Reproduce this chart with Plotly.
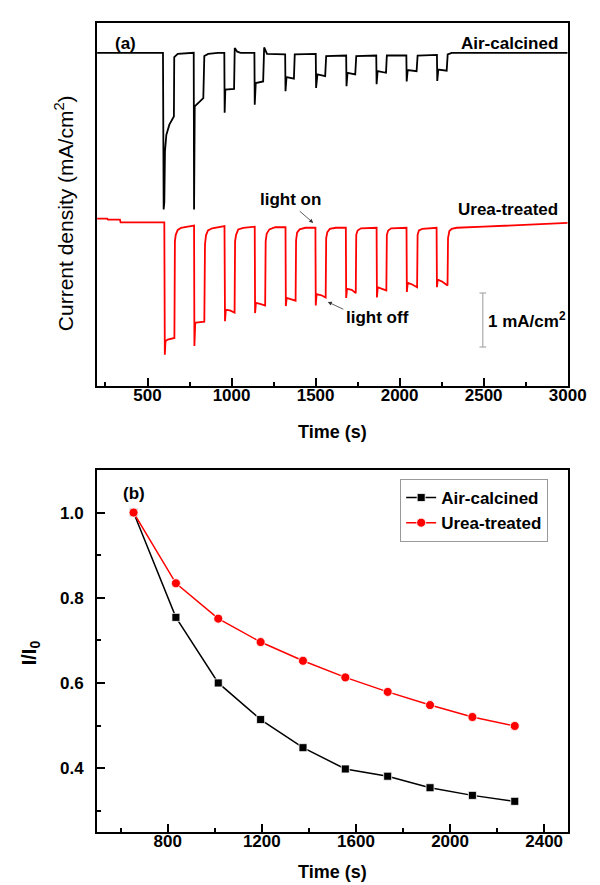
import plotly.graph_objects as go

# ---------------- Panel (a): transient photocurrent ----------------
t_air = [200, 592, 596, 600, 604, 612, 630, 645, 657, 659, 680, 775,
         777, 781, 804, 832, 838, 861, 919, 957,
         959, 963, 1015, 1019, 1034, 1054, 1136,
         1138, 1144, 1188, 1194, 1211, 1319,
         1321, 1327, 1371, 1376, 1501,
         1503, 1511, 1557, 1563, 1682,
         1684, 1690, 1736, 1742, 1861,
         1863, 1869, 1919, 1924, 2040,
         2042, 2048, 2101, 2107, 2222,
         2224, 2230, 2280, 2286, 2310, 3000]
j_air = [6.17, 6.17, 3.27, 3.40, 4.35, 4.65, 4.84, 4.93, 4.99, 6.09, 6.15, 6.17,
         3.27, 5.18, 5.24, 5.33, 6.11, 6.15, 6.17, 6.17,
         5.06, 5.49, 5.50, 6.26, 6.19, 6.17, 6.17,
         5.21, 5.61, 5.64, 6.27, 6.15, 6.14,
         5.46, 5.72, 5.69, 6.14, 6.15,
         5.52, 5.77, 5.74, 6.11, 6.12,
         5.55, 5.80, 5.77, 6.11, 6.12,
         5.59, 5.83, 5.80, 6.12, 6.12,
         5.64, 5.85, 5.83, 6.12, 6.13,
         5.65, 5.86, 5.84, 6.14, 6.17, 6.17]

t_urea = [200, 260, 265, 336, 340, 600,
          603, 607, 620, 660, 663, 668, 680, 700, 740, 777,
          779, 784, 800, 838, 842, 848, 860, 885, 958,
          961, 966, 990, 1018, 1021, 1027, 1040, 1070, 1138,
          1140, 1145, 1170, 1200, 1203, 1209, 1225, 1260, 1321,
          1323, 1328, 1355, 1381, 1384, 1390, 1405, 1440, 1499,
          1501, 1506, 1535, 1560, 1563, 1570, 1585, 1620, 1680,
          1682, 1687, 1715, 1739, 1742, 1750, 1770, 1863,
          1865, 1870, 1895, 1921, 1924, 1932, 1950, 2041,
          2043, 2048, 2075, 2104, 2107, 2115, 2135, 2220,
          2222, 2227, 2255, 2285, 2288, 2296, 2310, 2340, 2500, 2750, 3000]
j_urea = [3.10, 3.10, 3.08, 3.08, 3.03, 3.03,
          0.58, 0.83, 0.86, 0.89, 2.68, 2.80, 2.89, 2.93, 2.95, 2.97,
          0.74, 1.17, 1.18, 1.19, 2.62, 2.79, 2.88, 2.92, 2.96,
          1.20, 1.41, 1.40, 1.36, 2.68, 2.80, 2.90, 2.93, 2.95,
          1.35, 1.54, 1.52, 1.49, 2.68, 2.82, 2.90, 2.94, 2.94,
          1.48, 1.63, 1.61, 1.58, 2.70, 2.84, 2.90, 2.93, 2.93,
          1.49, 1.70, 1.68, 1.64, 2.74, 2.85, 2.91, 2.93, 2.93,
          1.63, 1.80, 1.78, 1.72, 2.80, 2.88, 2.92, 2.93,
          1.64, 1.83, 1.80, 1.77, 2.80, 2.88, 2.92, 2.93,
          1.74, 1.91, 1.88, 1.83, 2.80, 2.88, 2.91, 2.93,
          1.83, 1.97, 1.93, 1.86, 2.74, 2.87, 2.91, 2.93, 2.95, 2.99, 3.02]

xticks_a = [500, 1000, 1500, 2000, 2500, 3000]

# scale bar (1 mA/cm2) in panel (a) data units
scalebar_t = 2495
scalebar_j = [0.722, 1.722]

# ---------------- Panel (b): normalized photocurrent ----------------
t_cycle = [655, 835, 1015, 1195, 1375, 1555, 1735, 1915, 2095, 2275]
ratio_air = [1.000, 0.754, 0.600, 0.514, 0.448, 0.398, 0.381, 0.354, 0.336, 0.322]
ratio_urea = [1.000, 0.834, 0.751, 0.696, 0.652, 0.613, 0.579, 0.548, 0.520, 0.499]

xticks_b = [800, 1200, 1600, 2000, 2400]
yticks_b = [0.4, 0.6, 0.8, 1.0]

FONT = "Liberation Sans, Arial, sans-serif"
W, H = 600, 885

fig = go.Figure()
fig.add_trace(go.Scatter(x=t_air, y=j_air, mode="lines", xaxis="x", yaxis="y",
                         line=dict(color="black", width=1.8), showlegend=False,
                         name="Air-calcined"))
fig.add_trace(go.Scatter(x=t_urea, y=j_urea, mode="lines", xaxis="x", yaxis="y",
                         line=dict(color="#ff0000", width=1.8), showlegend=False,
                         name="Urea-treated"))
fig.add_trace(go.Scatter(x=t_cycle, y=ratio_air, mode="lines+markers", xaxis="x2", yaxis="y2",
                         name="Air-calcined",
                         line=dict(color="black", width=1.5),
                         marker=dict(symbol="square", size=8, color="black",
                                     line=dict(color="white", width=0.8))))
fig.add_trace(go.Scatter(x=t_cycle, y=ratio_urea, mode="lines+markers", xaxis="x2", yaxis="y2",
                         name="Urea-treated",
                         line=dict(color="#ff0000", width=1.5),
                         marker=dict(symbol="circle", size=9, color="#ff0000",
                                     line=dict(color="white", width=0.8))))

xdom = [92 / W, 578 / W]
axis_common = dict(showline=True, linewidth=2, linecolor="black", mirror=True,
                   showgrid=False, zeroline=False)

fig.update_layout(
    width=W, height=H,
    margin=dict(l=0, r=0, t=0, b=0),
    paper_bgcolor="white", plot_bgcolor="white",
    font=dict(family=FONT, color="black"),
    xaxis=dict(domain=xdom, range=[200, 3000], anchor="y",
               tickmode="array", tickvals=xticks_a,
               ticks="inside", ticklen=8, tickwidth=1.5, tickcolor="black",
               minor=dict(ticks="inside", ticklen=4, tickwidth=1.5, tickcolor="black",
                          dtick=250, tick0=0),
               tickfont=dict(size=17, family=FONT, weight="bold"),
               ticklabelstandoff=-7,
               **axis_common),
    yaxis=dict(domain=[1 - 378 / H, 1 - 15 / H], range=[0, 6.722], anchor="x",
               showticklabels=False, ticks="", **axis_common),
    xaxis2=dict(domain=xdom, range=[500, 2500], anchor="y2",
                tickmode="array", tickvals=xticks_b,
                ticks="inside", ticklen=8, tickwidth=1.5, tickcolor="black",
                minor=dict(ticks="inside", ticklen=4, tickwidth=1.5, tickcolor="black",
                           dtick=200, tick0=0),
                tickfont=dict(size=17, family=FONT, weight="bold"),
                ticklabelstandoff=-7,
                **axis_common),
    yaxis2=dict(domain=[1 - 824 / H, 1 - 462 / H], range=[0.25, 1.1], anchor="x2",
                tickmode="array", tickvals=yticks_b, tickformat=".1f",
                ticks="inside", ticklen=8, tickwidth=1.5, tickcolor="black",
                minor=dict(ticks="inside", ticklen=4, tickwidth=1.5, tickcolor="black",
                           dtick=0.1, tick0=0),
                tickfont=dict(size=17, family=FONT, weight="bold"),
                ticklabelstandoff=8,
                **axis_common),
    legend=dict(x=405 / W, y=1 - 471 / H, xanchor="left", yanchor="top",
                bgcolor="white", bordercolor="#999999", borderwidth=1,
                font=dict(size=17, family=FONT, weight="bold"),
                tracegroupgap=0, itemwidth=30),
)

bold = dict(family=FONT, size=17, color="black", weight="bold")
ann = []
# Panel (a) labels
ann.append(dict(x=367, y=6.35, xref="x", yref="y", text="(a)", showarrow=False, font=bold))
ann.append(dict(x=2957, y=6.35, xref="x", yref="y", text="Air-calcined", xanchor="right",
                showarrow=False, font=bold))
ann.append(dict(x=2957, y=3.26, xref="x", yref="y", text="Urea-treated", xanchor="right",
                showarrow=False, font=bold))
ann.append(dict(x=1348, y=3.46, xref="x", yref="y", text="light on", showarrow=False, font=bold))
ann.append(dict(x=1486, y=3.02, xref="x", yref="y", text="", showarrow=True,
                ax=-15, ay=-13, arrowhead=2, arrowsize=1, arrowwidth=0.8, arrowcolor="#333333"))
ann.append(dict(x=1867, y=1.26, xref="x", yref="y", text="light off", showarrow=False, font=bold))
ann.append(dict(x=1573, y=1.556, xref="x", yref="y", text="", showarrow=True,
                ax=17, ay=8, arrowhead=2, arrowsize=1, arrowwidth=0.8, arrowcolor="#333333"))
ann.append(dict(x=2513, y=1.23, xref="x", yref="y", text="1 mA/cm<sup>2</sup>", xanchor="left",
                showarrow=False, font=bold))
# Axis titles
ann.append(dict(x=58 / W, y=1 - 205 / H, xref="paper", yref="paper",
                xanchor="center", yanchor="middle",
                text="Current density (mA/cm<sup>2</sup>)", textangle=-90, showarrow=False,
                font=dict(family=FONT, size=21, color="black")))
ann.append(dict(x=335 / W, y=1 - 424 / H, xref="paper", yref="paper", text="Time (s)",
                xanchor="center", yanchor="middle",
                showarrow=False, font=dict(family=FONT, size=18, color="black", weight="bold")))
# Panel (b) labels
ann.append(dict(x=655, y=1.045, xref="x2", yref="y2", text="(b)", showarrow=False, font=bold))
ann.append(dict(x=23 / W, y=1 - 645 / H, xref="paper", yref="paper", text="I/I<sub>0</sub>",
                xanchor="center", yanchor="middle", textangle=-90, showarrow=False,
                font=dict(family=FONT, size=20, color="black", weight="bold")))
ann.append(dict(x=335 / W, y=1 - 864 / H, xref="paper", yref="paper", text="Time (s)",
                xanchor="center", yanchor="middle",
                showarrow=False, font=dict(family=FONT, size=18, color="black", weight="bold")))
fig.update_layout(annotations=ann)

# scale bar with end caps
bar = dict(color="#aaaaaa", width=1.2)
fig.add_shape(type="line", xref="x", yref="y", x0=scalebar_t, x1=scalebar_t,
              y0=scalebar_j[0], y1=scalebar_j[1], line=bar)
for jv in scalebar_j:
    fig.add_shape(type="line", xref="x", yref="y", x0=scalebar_t - 20, x1=scalebar_t + 20,
                  y0=jv, y1=jv, line=bar)

fig.write_html("out.html")
